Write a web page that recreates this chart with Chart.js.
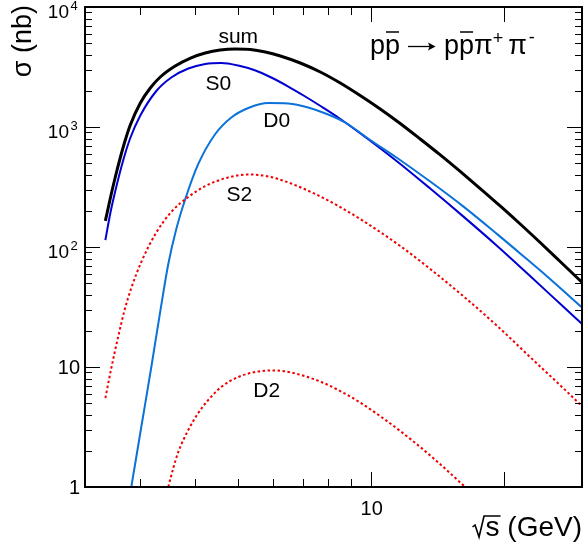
<!DOCTYPE html>
<html><head><meta charset="utf-8">
<script src="https://cdn.jsdelivr.net/npm/chart.js@4/dist/chart.umd.min.js"></script>
<style>html,body{margin:0;padding:0;background:#fff;}canvas{display:block;}</style>
</head><body>
<canvas id="c" width="584" height="552"></canvas>
<script>
// ---- data (sqrt(s) in GeV, sigma in nb) ----
const sumX = [2.502, 2.568, 2.635, 2.705, 2.776, 2.849, 3.002, 3.162, 3.331, 3.60, 3.90, 4.21, 4.55, 4.93, 5.33, 5.76, 6.23, 6.91, 7.67, 8.51, 9.44, 10.48, 11.63, 12.91, 14.33, 15.90, 17.65, 19.58, 21.74, 24.12, 26.77, 30.02];
const sumY = [165, 256, 383, 557, 779, 1039, 1585, 2113, 2610, 3223, 3758, 4138, 4383, 4467, 4424, 4217, 3906, 3415, 2873, 2326, 1830, 1413, 1070, 794, 585, 426, 307, 220, 155.5, 109, 75.7, 50.6];

const s0X = [2.502, 2.568, 2.635, 2.747, 2.849, 3.002, 3.263, 3.528, 3.855, 4.211, 4.577, 5.00, 5.47, 5.94, 6.49, 7.09, 7.71, 8.42, 9.59, 11.45, 13.60, 16.15, 19.28, 22.89, 27.19, 30.02];
const s0Y = [114, 192, 293, 531, 810, 1247, 1995, 2585, 3073, 3350, 3415, 3255, 2957, 2585, 2175, 1796, 1482, 1200, 850, 516, 307, 180, 102, 57.3, 31.9, 22.8];

const d0X = [2.864, 3.017, 3.179, 3.349, 3.473, 3.621, 3.795, 4.061, 4.437, 4.824, 5.27, 5.85, 6.49, 7.20, 7.99, 8.73, 9.95, 11.45, 13.60, 16.15, 19.28, 22.08, 25.02, 30.02];
const d0Y = [1.0, 3.16, 10.0, 32.9, 72.2, 141, 251, 492, 874, 1200, 1440, 1585, 1570, 1454, 1271, 1090, 779, 552, 351, 218, 128, 84.1, 56.8, 31.3];

const s2X = [2.502, 2.581, 2.677, 2.762, 2.864, 3.017, 3.246, 3.528, 3.855, 4.211, 4.748, 5.27, 5.85, 6.49, 7.47, 8.42, 9.59, 11.63, 13.60, 16.15, 19.28, 22.89, 27.19, 30.02];
const s2Y = [5.51, 9.81, 18.1, 29.3, 45.5, 75.0, 128, 196, 261, 322, 380, 402, 387, 345, 276.5, 220, 165, 102, 65.6, 39.0, 22.0, 12.1, 6.68, 4.69];

const d2X = [3.473, 3.565, 3.659, 3.855, 4.061, 4.278, 4.577, 5.00, 5.55, 6.07, 6.73, 7.71, 8.42, 9.59, 11.63, 13.81, 16.32];
const d2Y = [1.0, 1.44, 1.96, 2.99, 4.14, 5.31, 6.81, 8.25, 9.17, 9.35, 8.83, 7.50, 6.43, 4.87, 2.93, 1.745, 1.0];

// ---- axis ticks ----
const yMajorTicks = [1, 10, 100, 1000, 10000];
const yTickBase = ['1', '10', '10', '10', '10'];
const yTickExp = ['', '', '2', '3', '4'];
const yMinorTicks = [2,3,4,5,6,7,8,9, 20,30,40,50,60,70,80,90, 200,300,400,500,600,700,800,900, 2000,3000,4000,5000,6000,7000,8000,9000];
const xMajorTicks = [10, 20];
const xMinorTicks = [3, 4, 5, 6, 7, 8, 9];
const xLabelTicks = [10];
const xLabelText = ['10'];

// ---- curve labels (anchored in data coordinates) ----
const curveLabels = ['sum', 'S0', 'D0', 'S2', 'D2'];
const curveLabelX = [5.0, 4.51, 6.11, 5.03, 5.80];
const curveLabelY = [4970, 2034, 1000, 242, 5.62];

const FONT = '"Liberation Sans", Arial, Helvetica, sans-serif';

function pts(xs, ys){ return xs.map((x,i)=>({x:x, y:ys[i]})); }

const framePlugin = {
  id: 'rootFrame',
  afterDatasetsDraw(chart){
    const ctx = chart.ctx, a = chart.chartArea, xs = chart.scales.x, ys = chart.scales.y;
    ctx.save();
    ctx.strokeStyle = '#000';
    ctx.fillStyle = '#000';
    ctx.lineWidth = 1;
    function ln(x1,y1,x2,y2){ ctx.beginPath(); ctx.moveTo(x1,y1); ctx.lineTo(x2,y2); ctx.stroke(); }
    // y ticks (left and right)
    yMajorTicks.forEach(v=>{ const p = Math.round(ys.getPixelForValue(v))+0.5; ln(a.left,p,a.left+15,p); ln(a.right-15,p,a.right,p); });
    yMinorTicks.forEach(v=>{ const p = Math.round(ys.getPixelForValue(v))+0.5; ln(a.left,p,a.left+7,p); ln(a.right-7,p,a.right,p); });
    // x ticks (bottom and top)
    xMajorTicks.forEach(v=>{ const p = Math.round(xs.getPixelForValue(v))+0.5; ln(p,a.bottom,p,a.bottom-15); ln(p,a.top,p,a.top+15); });
    xMinorTicks.forEach(v=>{ const p = Math.round(xs.getPixelForValue(v))+0.5; ln(p,a.bottom,p,a.bottom-8); ln(p,a.top,p,a.top+8); });
    // frame
    ctx.lineWidth = 2;
    ctx.strokeRect(a.left, a.top, a.right-a.left, a.bottom-a.top);

    // y tick labels
    ctx.textBaseline = 'middle';
    yMajorTicks.forEach((v,i)=>{
      const p = ys.getPixelForValue(v);
      if (yTickExp[i]) {
        ctx.font = '19px ' + FONT; ctx.textAlign = 'right';
        ctx.fillText(yTickBase[i], a.left-16, p+6);
        ctx.font = '13px ' + FONT; ctx.textAlign = 'left';
        ctx.fillText(yTickExp[i], a.left-14.5, p-0.5);
      } else {
        ctx.font = '20px ' + FONT; ctx.textAlign = 'right';
        ctx.fillText(yTickBase[i], a.left-5, p+1.5);
      }
    });
    // x tick labels
    ctx.font = '20px ' + FONT; ctx.textAlign = 'center';
    xLabelTicks.forEach((v,i)=>{ ctx.fillText(xLabelText[i], xs.getPixelForValue(v)+0.5, a.bottom+22.5); });

    // x title: sqrt(s) (GeV)
    ctx.textBaseline = 'alphabetic';
    ctx.font = '28px ' + FONT; ctx.textAlign = 'left';
    const tRest = 's (GeV)';
    const w = ctx.measureText(tRest).width;
    const sL = a.right - w, B = 536;
    ctx.fillText(tRest, sL, B);
    const sw = ctx.measureText('s').width;
    ctx.lineWidth = 1.6;
    ctx.beginPath();
    ctx.moveTo(sL-13, B-9); ctx.lineTo(sL-10.5, B-11); ctx.lineTo(sL-6.5, B+1);
    ctx.lineTo(sL-1.5, B-20); ctx.lineTo(sL+sw+1, B-20);
    ctx.stroke();

    // y title
    ctx.save();
    ctx.translate(31, 5); ctx.rotate(-Math.PI/2);
    ctx.font = '27px ' + FONT; ctx.textAlign = 'right'; ctx.textBaseline = 'alphabetic';
    ctx.fillText('σ (nb)', 0, 0);
    ctx.restore();

    // process label: p pbar -> p pbar pi+ pi-
    ctx.textAlign = 'left'; ctx.textBaseline = 'alphabetic';
    let x = 370; const base = 54;
    const big = '27px ' + FONT, small = '18px ' + FONT;
    function put(t, f, dy){ ctx.font = f; ctx.fillText(t, x, base+(dy||0)); const ww = ctx.measureText(t).width; x += ww; return ww; }
    function pbar(){ ctx.font = big; const ww = ctx.measureText('p').width; ctx.lineWidth = 1.5; ln(x+1, 32, x+ww-1, 32); put('p', big); }
    put('p', big); pbar();
    // arrow
    x += 8;
    ctx.lineWidth = 1.3;
    ln(x, 46.5, x+26, 46.5);
    ctx.beginPath(); ctx.moveTo(x+27.5, 46.5); ctx.lineTo(x+20, 42.5); ctx.lineTo(x+21.5, 46.5); ctx.lineTo(x+20, 50.5); ctx.closePath(); ctx.fill();
    x += 36;
    put('p', big); pbar();
    put('\u03C0', big); put('+', small, -10); x += 5;
    put('\u03C0', big); x += 2; put('-', small, -11);

    // curve labels
    ctx.font = '21px ' + FONT; ctx.textAlign = 'center'; ctx.textBaseline = 'alphabetic';
    curveLabels.forEach((t,i)=>{ ctx.fillText(t, xs.getPixelForValue(curveLabelX[i]), ys.getPixelForValue(curveLabelY[i])); });
    ctx.restore();
  }
};

new Chart(document.getElementById('c'), {
  type: 'line',
  data: {
    datasets: [
      { label:'S2', data: pts(s2X, s2Y), borderColor:'#f00000', borderWidth:2, borderDash:[2.5,2.5], cubicInterpolationMode:'monotone' },
      { label:'D2', data: pts(d2X, d2Y), borderColor:'#f00000', borderWidth:2, borderDash:[2.5,2.5], cubicInterpolationMode:'monotone' },
      { label:'D0', data: pts(d0X, d0Y), borderColor:'#0a72d8', borderWidth:2, cubicInterpolationMode:'monotone' },
      { label:'S0', data: pts(s0X, s0Y), borderColor:'#0000d0', borderWidth:2, cubicInterpolationMode:'monotone' },
      { label:'sum', data: pts(sumX, sumY), borderColor:'#000000', borderWidth:3, cubicInterpolationMode:'monotone' }
    ]
  },
  options: {
    responsive: false, animation: false, devicePixelRatio: 1,
    layout: { padding: { left: 85, top: 7, right: 2, bottom: 65 } },
    plugins: { legend: { display: false }, tooltip: { enabled: false } },
    elements: { point: { radius: 0 } },
    scales: {
      x: { type: 'logarithmic', min: 2.25, max: 30, display: false },
      y: { type: 'logarithmic', min: 1, max: 10000, display: false }
    }
  },
  plugins: [framePlugin]
});
</script>
</body></html>
